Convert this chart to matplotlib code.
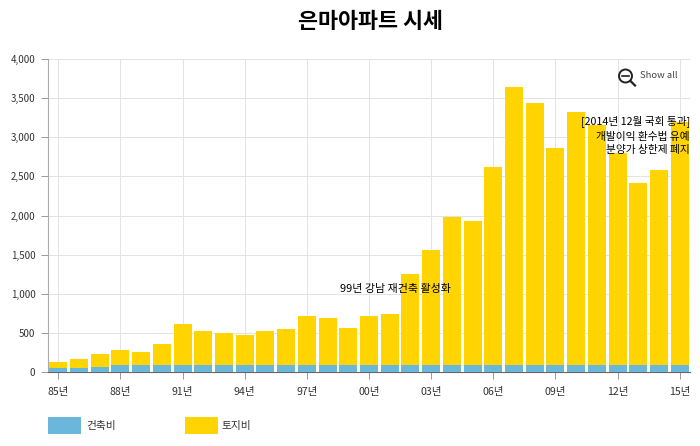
import matplotlib
matplotlib.use("Agg")
import matplotlib.pyplot as plt
from matplotlib.patches import Rectangle, Circle
from matplotlib.lines import Line2D

plt.rcParams['font.family'] = ['Noto Sans CJK KR', 'DejaVu Sans']

years = ['85년','86년','87년','88년','89년','90년','91년','92년','93년','94년','95년',
         '96년','97년','98년','99년','00년','01년','02년','03년','04년','05년','06년',
         '07년','08년','09년','10년','11년','12년','13년','14년','15년']
build = [50,50,70,90,90,90,90,90,90,90,90,90,90,90,90,95,95,95,95,95,95,95,95,95,95,95,95,95,95,95,95]
land = [80,120,165,185,170,270,525,440,410,385,440,460,630,605,470,625,650,1155,1465,1890,1835,2525,
        3545,3345,2765,3225,3060,2705,2315,2485,3100]
yticks = [0,500,1000,1500,2000,2500,3000,3500,4000]

W, H = 700, 446
fig = plt.figure(figsize=(7, 4.46), dpi=100, facecolor='white')
ax = fig.add_axes([48/W, 1-372/H, 642/W, 313/H])
x = list(range(len(years)))
ax.bar(x, build, width=0.87, color='#6BB7DB', zorder=3)
ax.bar(x, land, bottom=build, width=0.87, color='#FFD400', zorder=3)
ax.set_xlim(-0.5, 30.5)
ax.set_ylim(0, 4000)
ax.set_yticks(yticks)
ax.set_yticklabels([f'{v:,}' for v in yticks], fontsize=7, color='#333333')
ax.set_xticks(x[::3])
ax.set_xticklabels(years[::3], fontsize=7.6, color='#333333')
ax.grid(True, color='#E3E3E3', linewidth=0.7, zorder=0)
ax.set_axisbelow(True)
for s in ['top', 'right']:
    ax.spines[s].set_visible(False)
ax.spines['left'].set_color('#AAAAAA')
ax.spines['bottom'].set_color('#666666')
ax.tick_params(axis='y', length=5, width=0.7, color='#999999', pad=4)
ax.tick_params(axis='x', length=5, width=0.7, color='#999999', pad=6)

fig.text(370/W, 1-21/H, '은마아파트 시세', fontsize=15.7, fontweight='bold', color='black',
         ha='center', va='center')

fig.text(395.5/W, 1-289/H, '99년 강남 재건축 활성화', ha='center', fontsize=7.9, va='center', zorder=5)
fig.text(690/W, 1-121/H, '[2014년 12월 국회 통과]', ha='right', fontsize=7.7, va='center', zorder=5)
fig.text(690/W, 1-137/H, '개발이익 환수법 유예', ha='right', fontsize=7.7, va='center', zorder=5)
fig.text(690/W, 1-150/H, '분양가 상한제 폐지', ha='right', fontsize=7.7, va='center', zorder=5)

# Overlay in pixel coordinates for the button and legend
ov = fig.add_axes([0, 0, 1, 1], facecolor='none')
ov.set_xlim(0, W); ov.set_ylim(H, 0); ov.axis('off')
ov.add_patch(Circle((625.5, 76), 6.5, fill=False, edgecolor='#222222', linewidth=1.4))
ov.add_line(Line2D([622, 629], [76, 76], color='#222222', linewidth=1.2))
ov.add_line(Line2D([630.5, 635], [81, 85.5], color='#222222', linewidth=1.6))
ov.text(640, 75.5, 'Show all', fontsize=6.8, color='#444444', va='center', ha='left')

ov.add_patch(Rectangle((48, 417), 33, 17, facecolor='#6BB7DB', edgecolor='none'))
ov.text(86, 425.5, '건축비', fontsize=7.7, color='#333333', va='center')
ov.add_patch(Rectangle((185, 417), 33, 17, facecolor='#FFD400', edgecolor='none'))
ov.text(222, 425.5, '토지비', fontsize=7.7, color='#333333', va='center')

fig.savefig('out.png', dpi=100)
